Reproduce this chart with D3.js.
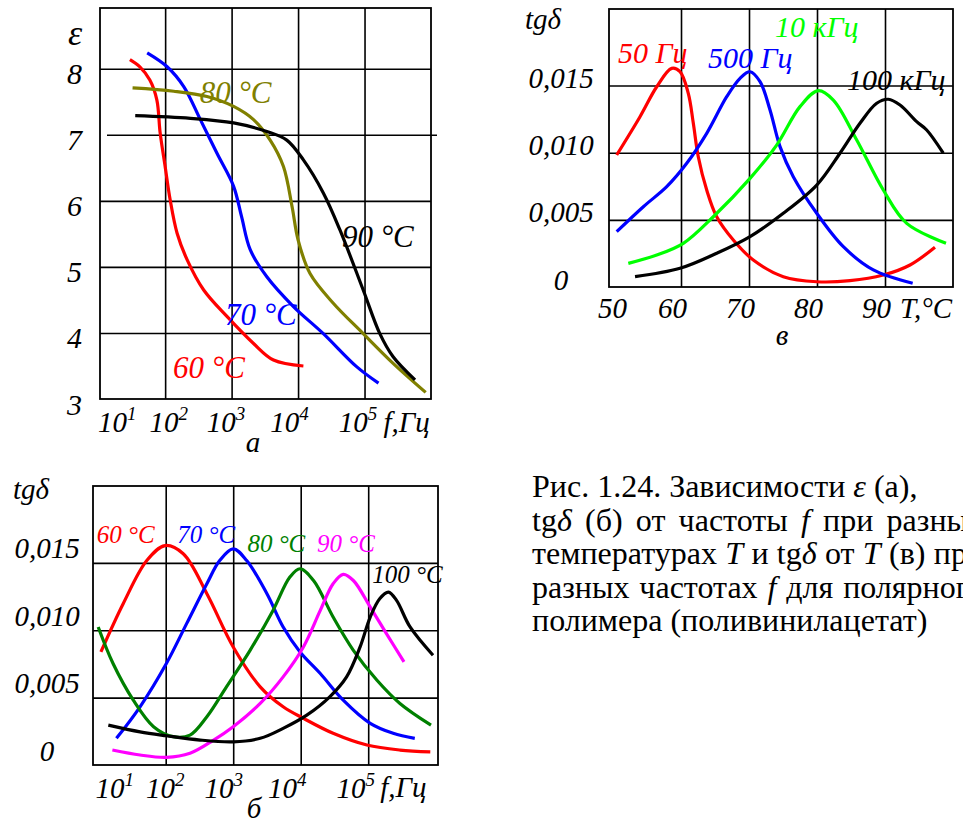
<!DOCTYPE html>
<html>
<head>
<meta charset="utf-8">
<script src="https://cdn.jsdelivr.net/npm/d3@7"></script>
<style>
body { margin: 0; background: #fff; }
svg { display: block; overflow: hidden; }
text { font-family: "Liberation Serif", "Times New Roman", serif; }
.grid line { stroke: #000; stroke-width: 1.6; }
</style>
</head>
<body>
<svg id="fig" width="963" height="824"></svg>
<script>
// ---- data: panel а, ε against lg f ----
const decades = [1, 2, 3, 4, 5];
const epsTicks = [3, 4, 5, 6, 7, 8];

const a60_lg  = [1.47, 1.62, 1.77, 1.875, 1.925, 2.0, 2.075, 2.18, 2.33, 2.58, 2.93, 3.33, 3.63, 4.08];
const a60_eps = [8.14, 8.03, 7.83, 7.53, 7.03, 6.52, 6.02, 5.51, 5.11, 4.65, 4.25, 3.84, 3.59, 3.50];
const a70_lg  = [1.73, 2.03, 2.28, 2.53, 2.78, 3.03, 3.15, 3.28, 3.53, 3.93, 4.38, 4.88, 5.21];
const a70_eps = [8.24, 8.03, 7.73, 7.23, 6.72, 6.22, 5.76, 5.26, 4.85, 4.40, 3.99, 3.49, 3.24];
const a80_lg  = [1.51, 2.13, 2.63, 3.03, 3.33, 3.58, 3.78, 3.91, 4.0, 4.18, 4.53, 4.98, 5.43, 5.92];
const a80_eps = [7.71, 7.66, 7.58, 7.43, 7.23, 6.92, 6.52, 5.91, 5.41, 4.90, 4.45, 3.99, 3.54, 3.10];
const a90_lg  = [1.55, 2.38, 3.03, 3.53, 3.83, 4.08, 4.38, 4.63, 4.98, 5.23, 5.43, 5.76];
const a90_eps = [7.29, 7.25, 7.18, 7.05, 6.92, 6.62, 6.12, 5.56, 4.65, 3.99, 3.64, 3.29];

// ---- data: panel б, tgδ·10³ against lg f ----
const tgTicks = [0, 5, 10, 15];
const tgLabels = ['0', '0,005', '0,010', '0,015'];

const b60_lg  = [1.04, 1.37, 1.72, 1.99, 2.26, 2.61, 3.0, 3.40, 3.74, 4.04, 4.48, 4.98, 5.47, 5.92];
const b60_tg  = [8.39, 11.97, 15.17, 16.28, 15.67, 12.71, 8.76, 5.80, 4.32, 3.46, 2.35, 1.48, 1.11, 0.98];
const b70_lg  = [1.27, 1.62, 2.01, 2.31, 2.61, 2.80, 3.0, 3.20, 3.50, 3.74, 3.99, 4.29, 4.63, 5.03, 5.37, 5.69];
const b70_tg  = [1.98, 4.32, 7.53, 10.49, 13.45, 15.17, 16.04, 15.17, 12.71, 10.24, 8.39, 6.79, 4.81, 3.09, 2.35, 1.98];
const b80_lg  = [1.0, 1.22, 1.52, 1.82, 2.11, 2.36, 2.61, 2.90, 3.25, 3.59, 3.84, 3.99, 4.19, 4.48, 4.78, 5.13, 5.47, 5.93];
const b80_tg  = [10.24, 7.53, 4.81, 2.84, 2.10, 2.22, 3.58, 5.80, 8.51, 11.47, 13.94, 14.56, 13.69, 10.98, 8.51, 6.29, 4.57, 2.96];
const b90_lg  = [1.21, 1.62, 2.01, 2.36, 2.71, 3.0, 3.40, 3.74, 4.04, 4.29, 4.48, 4.63, 4.78, 5.03, 5.27, 5.53];
const b90_tg  = [1.11, 0.74, 0.57, 0.87, 1.85, 2.84, 4.57, 6.54, 8.76, 11.47, 13.45, 14.14, 13.69, 11.72, 9.75, 7.65];
const b100_lg = [1.15, 1.62, 2.01, 2.51, 3.0, 3.40, 3.74, 4.09, 4.43, 4.68, 4.88, 5.03, 5.17, 5.30, 5.42, 5.62, 5.96];
const b100_tg = [2.96, 2.46, 2.17, 1.85, 1.72, 1.98, 2.72, 3.70, 5.06, 6.54, 8.76, 10.98, 12.34, 12.83, 12.21, 10.24, 8.14];

// ---- data: panel в, tgδ·10³ against T ----
const tempTicks = [50, 60, 70, 80, 90];

const v50_T    = [50.54, 53.97, 56.43, 58.63, 59.85, 61.07, 61.81, 62.54, 63.78, 65.25, 67.69, 70.63, 75.04, 79.96, 84.85, 89.75, 93.68, 97.35];
const v50_tg   = [9.83, 12.68, 14.91, 16.28, 16.03, 14.42, 12.19, 9.70, 7.22, 5.23, 3.50, 2.01, 0.77, 0.39, 0.47, 0.89, 1.64, 2.96];
const v500_T   = [50.54, 54.46, 57.9, 60.84, 63.78, 66.72, 68.68, 70.15, 71.62, 73.09, 74.56, 76.51, 79.96, 83.87, 88.28, 94.07];
const v500_tg  = [4.12, 5.98, 7.47, 9.21, 11.44, 14.17, 15.54, 16.03, 15.29, 13.18, 10.45, 8.21, 5.49, 3.0, 1.27, 0.28];
const v10k_T   = [52.25, 56.43, 60.34, 64.75, 70.15, 74.07, 77.5, 80.19, 82.4, 85.84, 89.75, 93.19, 98.97];
const v10k_tg  = [1.76, 2.38, 3.25, 5.23, 8.09, 10.57, 13.43, 14.62, 13.92, 10.95, 7.22, 4.74, 3.25];
const v100k_T  = [53.24, 59.85, 65.25, 70.15, 75.04, 79.96, 83.38, 86.32, 88.78, 90.49, 92.21, 94.66, 96.13, 98.57];
const v100k_tg = [0.77, 1.39, 2.51, 3.75, 5.49, 7.59, 9.96, 12.19, 13.68, 13.98, 13.55, 12.31, 11.69, 9.96];

// caption, *...* marks italic pieces
const caption = [
    'Рис. 1.24. Зависимости *ε* (а),',
    'tg*δ* (б) от частоты *f* при разных',
    'температурах *T* и tg*δ* от *T* (в) при',
    'разных частотах *f* для полярного',
    'полимера (поливинилацетат)'
];
const justified = [false, true, true, true, false];

const RED = '#ff0000', BLUE = '#0000ff', OLIVE = '#808000', GREEN = '#00ff00', DKGREEN = '#008000', MAGENTA = '#ff00ff';
const zip = (xs, ys) => xs.map((v, i) => [v, ys[i]]);

const svg = d3.select('#fig');
const FS = 29;

//Section: helpers
function drawGrid(g, x, y, xv, yv) {
    const [x0, x1] = x.range(), [y0, y1] = y.range();
    g.append('g').attr('class', 'grid').attr('transform', 'translate(0,' + y0 + ')')
        .call(d3.axisBottom(x).tickValues(xv).tickSize(-(y0 - y1)).tickFormat(''))
        .call(s => s.select('.domain').remove());
    g.append('g').attr('class', 'grid yg').attr('transform', 'translate(' + x0 + ',0)')
        .call(d3.axisLeft(y).tickValues(yv).tickSize(-(x1 - x0)).tickFormat(''))
        .call(s => s.select('.domain').remove());
    g.append('rect')
        .attr('x', x0).attr('y', y1).attr('width', x1 - x0).attr('height', y0 - y1)
        .attr('fill', 'none').attr('stroke', '#000').attr('stroke-width', 1.8);
}

function drawCurves(g, x, y, series) {
    const line = d3.line().x(d => x(d[0])).y(d => y(d[1])).curve(d3.curveCatmullRom.alpha(0.5));
    series.forEach(s => {
        g.append('path').attr('d', line(s.pts))
            .attr('fill', 'none').attr('stroke', s.color)
            .attr('stroke-width', 3.2).attr('stroke-linejoin', 'round');
    });
}

function labelCurves(g, x, y, labels, size) {
    labels.forEach(l => {
        g.append('text').attr('x', x(l.at[0])).attr('y', y(l.at[1]))
            .attr('font-size', size).attr('font-style', 'italic').attr('fill', l.color)
            .text(l.text);
    });
}

// x tick labels as powers of ten; nudge = hand offsets of the labels in the original
function decadeLabels(g, x, y, nudge) {
    const ax = g.append('g').attr('transform', 'translate(0,' + y.range()[0] + ')')
        .call(d3.axisBottom(x).tickValues(decades).tickSize(0).tickFormat(''));
    ax.select('.domain').remove();
    ax.attr('font-family', null).attr('font-size', FS);
    ax.selectAll('.tick text').each(function(v, i) {
        const t = d3.select(this).attr('y', 33).attr('dy', null)
            .attr('dx', nudge[i])
            .attr('font-style', 'italic').attr('text-anchor', 'middle');
        t.append('tspan').text('10');
        t.append('tspan').attr('dy', -12).attr('font-size', 19).text(v);
    });
}

function tgLabelsLeft(g, y, xc, shift) {
    const ax = g.append('g').attr('transform', 'translate(' + xc + ',0)')
        .call(d3.axisLeft(y).tickValues(tgTicks).tickSize(0).tickPadding(0)
            .tickFormat((d, i) => tgLabels[i]));
    ax.select('.domain').remove();
    ax.attr('font-family', null).attr('font-size', FS).attr('text-anchor', 'middle');
    ax.selectAll('.tick text').attr('x', 0).attr('dy', null).attr('y', shift).attr('font-style', 'italic');
}

//Section: panel а
const xa = d3.scaleLinear().domain([1.02, 6.0]).range([100, 431]);
const ya = d3.scaleLinear().domain([3, 8.92]).range([399, 8]);
const ga = svg.append('g');
drawGrid(ga, xa, ya, [2, 3, 4, 5], [4, 5, 6, 7, 8]);
// the 7 line is drawn a bit off the frame in the original
ga.selectAll('.yg .tick').filter(d => d === 7).select('line')
    .attr('x1', 7).attr('x2', xa.range()[1] - xa.range()[0] + 6);

drawCurves(ga, xa, ya, [
    {pts: zip(a60_lg, a60_eps), color: RED},
    {pts: zip(a70_lg, a70_eps), color: BLUE},
    {pts: zip(a80_lg, a80_eps), color: OLIVE},
    {pts: zip(a90_lg, a90_eps), color: '#000'}
]);
labelCurves(ga, xa, ya, [
    {text: '80 °C', at: [2.52, 7.48], color: OLIVE},
    {text: '90 °C', at: [4.66, 5.30], color: '#000'},
    {text: '70 °C', at: [2.90, 4.12], color: BLUE},
    {text: '60 °C', at: [2.12, 3.32], color: RED}
], 31);
decadeLabels(ga, xa, ya, [18, 3, -6, -9, -7]);

const aLeft = ga.append('g').attr('transform', 'translate(' + (xa.range()[0] - 18) + ',0)')
    .call(d3.axisLeft(ya).tickValues(epsTicks).tickSize(0).tickPadding(0).tickFormat(d3.format('d')));
aLeft.select('.domain').remove();
aLeft.attr('font-family', null).attr('font-size', 30).attr('text-anchor', 'end');
aLeft.selectAll('.tick text').attr('x', 0).attr('dy', null).attr('y', 15).attr('font-style', 'italic');

ga.append('text').attr('x', 75).attr('y', 45).attr('text-anchor', 'middle')
    .attr('font-size', 36).attr('font-style', 'italic').text('ε');
ga.append('text').attr('x', xa(5) + 19).attr('y', ya.range()[0] + 33)
    .attr('font-size', FS).attr('font-style', 'italic').text('f,Гц');
ga.append('text').attr('x', 253).attr('y', 452).attr('text-anchor', 'middle')
    .attr('font-size', FS).attr('font-style', 'italic').text('а');

//Section: panel в
const xv = d3.scaleLinear().domain([49.41, 100.0]).range([609, 953]);
const yv = d3.scaleLinear().domain([0, 20.7]).range([287, 9]);
const gv = svg.append('g');
drawGrid(gv, xv, yv, [60, 70, 80, 90], [5, 10, 15]);
drawCurves(gv, xv, yv, [
    {pts: zip(v50_T, v50_tg), color: RED},
    {pts: zip(v500_T, v500_tg), color: BLUE},
    {pts: zip(v10k_T, v10k_tg), color: GREEN},
    {pts: zip(v100k_T, v100k_tg), color: '#000'}
]);
labelCurves(gv, xv, yv, [
    {text: '50 Гц', at: [50.73, 16.68], color: RED},
    {text: '500 Гц', at: [63.97, 16.31], color: BLUE},
    {text: '10 кГц', at: [73.82, 18.62], color: GREEN},
    {text: '100 кГц', at: [84.41, 14.67], color: '#000'}
], 30);

const vBottom = gv.append('g').attr('transform', 'translate(0,' + yv.range()[0] + ')')
    .call(d3.axisBottom(xv).tickValues(tempTicks).tickSize(0).tickPadding(0));
vBottom.select('.domain').remove();
vBottom.attr('font-family', null).attr('font-size', FS);
vBottom.selectAll('.tick text').each(function(v) {
    const xt = xv(v);
    d3.select(this).attr('y', 31).attr('dy', null).attr('font-style', 'italic')
        .attr('dx', Math.max(xt - 9, xv.range()[0] + 3) - xt);
});
tgLabelsLeft(gv, yv, xv.range()[0] - 48, 2);

gv.append('text').attr('x', 525).attr('y', 29).attr('font-size', FS).attr('font-style', 'italic')
    .text('tgδ');
gv.append('text').attr('x', 900).attr('y', yv.range()[0] + 31)
    .attr('font-size', FS).attr('font-style', 'italic').text('T,°C');
gv.append('text').attr('x', 782).attr('y', 345).attr('text-anchor', 'middle')
    .attr('font-size', FS).attr('font-style', 'italic').text('в');

//Section: panel б
const xb = d3.scaleLinear().domain([0.923, 6.034]).range([93, 438]);
const yb = d3.scaleLinear().domain([0, 20.7]).range([765, 486]);
const gb = svg.append('g');
drawGrid(gb, xb, yb, [2, 3, 4, 5], [5, 10, 15]);
drawCurves(gb, xb, yb, [
    {pts: zip(b60_lg, b60_tg), color: RED},
    {pts: zip(b70_lg, b70_tg), color: BLUE},
    {pts: zip(b80_lg, b80_tg), color: DKGREEN},
    {pts: zip(b90_lg, b90_tg), color: MAGENTA},
    {pts: zip(b100_lg, b100_tg), color: '#000'}
]);
labelCurves(gb, xb, yb, [
    {text: '60 °C', at: [0.98, 16.47], color: RED},
    {text: '70 °C', at: [2.17, 16.47], color: BLUE},
    {text: '80 °C', at: [3.21, 15.8], color: DKGREEN},
    {text: '90 °C', at: [4.24, 15.8], color: MAGENTA},
    {text: '100 °C', at: [5.06, 13.5], color: '#000'}
], 25);
decadeLabels(gb, xb, yb, [16, -1, -10, -14, -13]);
tgLabelsLeft(gb, yb, xb.range()[0] - 46, -5);

gb.append('text').attr('x', 13).attr('y', 499).attr('font-size', FS).attr('font-style', 'italic')
    .text('tgδ');
gb.append('text').attr('x', xb(5) + 12).attr('y', yb.range()[0] + 32)
    .attr('font-size', FS).attr('font-style', 'italic').text('f,Гц');
gb.append('text').attr('x', 254).attr('y', 818).attr('text-anchor', 'middle')
    .attr('font-size', FS).attr('font-style', 'italic').text('б');

//Section: caption
const CAP_FS = 32;
const cap = svg.append('g').attr('font-size', CAP_FS);
const capX = 532, capR = 984, capY = 497, capStep = 33.5;
caption.forEach((ln, i) => {
    const words = ln.split(' ').map(w => {
        const t = cap.append('text').attr('y', capY + i * capStep);
        w.split('*').forEach((seg, k) => {
            if (seg) t.append('tspan').attr('font-style', k % 2 ? 'italic' : null).text(seg);
        });
        return t;
    });
    const widths = words.map(t => t.node().getComputedTextLength());
    const gap = justified[i] ? (capR - capX - d3.sum(widths)) / (words.length - 1) : CAP_FS * 0.25;
    let cx = capX;
    words.forEach((t, j) => { t.attr('x', cx); cx += widths[j] + gap; });
});
</script>
</body>
</html>
